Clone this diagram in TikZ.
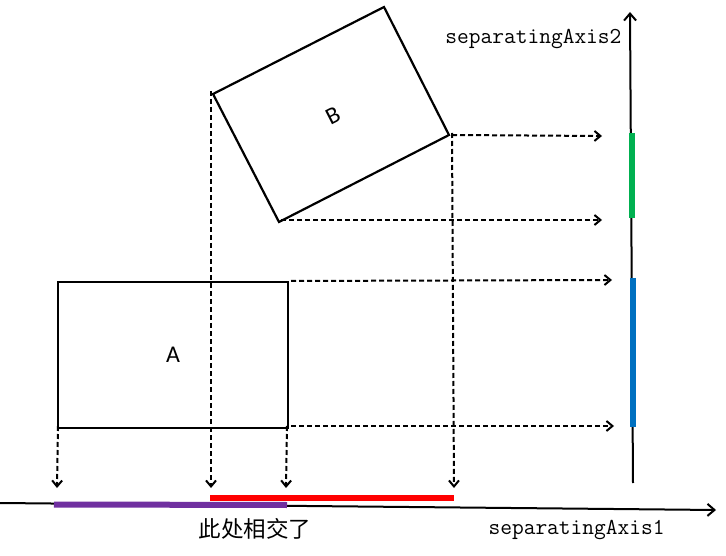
\documentclass[tikz,border=0pt]{standalone}
\usepackage{fontspec}
\newfontfamily\cjk{Noto Sans CJK SC}
\newfontfamily\shapefont{Carlito}
\usetikzlibrary{arrows.meta}
\definecolor{barGreen}{HTML}{00B050}
\definecolor{barBlue}{HTML}{0070C0}
\definecolor{barRed}{HTML}{FF0000}
\definecolor{barPurple}{HTML}{7030A0}
\begin{document}
\begin{tikzpicture}[x=1pt,y=-1pt,
        proj/.style={line width=2pt,dash pattern=on 5pt off 3pt,-{Straight Barb[length=6pt,width=10pt]}},
        axis/.style={line width=2pt,-{Straight Barb[length=7pt,width=12pt]}},
        bar/.style={line width=6pt},
        shapelabel/.style={font=\shapefont\fontsize{24}{28}\selectfont},
        axislabel/.style={font=\ttfamily\fontsize{22.8}{26}\selectfont}]
                \useasboundingbox (0,0) rectangle (726,556);
                %% box A
                \coordinate (A-nw) at (58,282);
                \coordinate (A-ne) at (288,282);
                \coordinate (A-se) at (288,428);
                \coordinate (A-sw) at (58,428);
                \draw[line width=2.2pt] (A-nw) -- (A-ne) -- (A-se) -- (A-sw) -- cycle;
                \node[shapelabel] (labA) at (173,355) {A};
                %% box B (turned)
                \coordinate (B-l) at (213,94);
                \coordinate (B-t) at (384,7);
                \coordinate (B-r) at (449,135);
                \coordinate (B-b) at (279,222);
                \draw[line width=2.2pt] (B-l) -- (B-t) -- (B-r) -- (B-b) -- cycle;
                \node[shapelabel,rotate=27] (labB) at (333,116) {B};
                %% axis 1
                \coordinate (ax1-start) at (0,503);
                \coordinate (ax1-end) at (716,510);
                \draw[axis] (ax1-start) -- (ax1-end);
                \node[axislabel,anchor=west] (ax1) at (485,530) {separatingAxis1};
                %% axis 2
                \coordinate (ax2-start) at (633,483);
                \coordinate (ax2-end) at (630,12);
                \draw[axis] (ax2-start) -- (ax2-end);
                \node[axislabel,anchor=east] (ax2) at (625,39) {separatingAxis2};
                %% projections onto axis 1
                \coordinate (p1) at (57,488);
                \coordinate (p2) at (211,488);
                \coordinate (p3) at (286,488);
                \coordinate (p4) at (454,488);
                \draw[proj] ([yshift=2pt]A-sw) -- (p1);
                \draw[proj] ([xshift=-2pt,yshift=3pt]B-l) -- (p2);
                \draw[proj] ([xshift=-1pt,yshift=2pt]A-se) -- (p3);
                \draw[proj] ([xshift=3pt,yshift=2pt]B-r) -- (p4);
                %% projections onto axis 2
                \coordinate (q1) at (602,136);
                \coordinate (q2) at (602,220);
                \coordinate (q3) at (612,280);
                \coordinate (q4) at (614,426);
                \draw[proj] ([xshift=3pt]B-r) -- (q1);
                \draw[proj] ([xshift=2pt,yshift=2pt]B-b) -- (q2);
                \draw[proj] ([xshift=3pt,yshift=1pt]A-ne) -- (q3);
                \draw[proj] ([xshift=3pt,yshift=2pt]A-se) -- (q4);
                %% intervals
                \draw[bar,barPurple] (54,504.5) -- (287,505);
                \draw[bar,barRed] (210,498) -- (454,498);
                \draw[bar,barGreen] (631.5,133) -- (631.5,218);
                \draw[bar,barBlue] (633,278) -- (633,427);
                \node[font=\cjk\fontsize{22.5}{26}\selectfont] (overlap) at (255,529) {此处相交了};
            \end{tikzpicture}
\end{document}
